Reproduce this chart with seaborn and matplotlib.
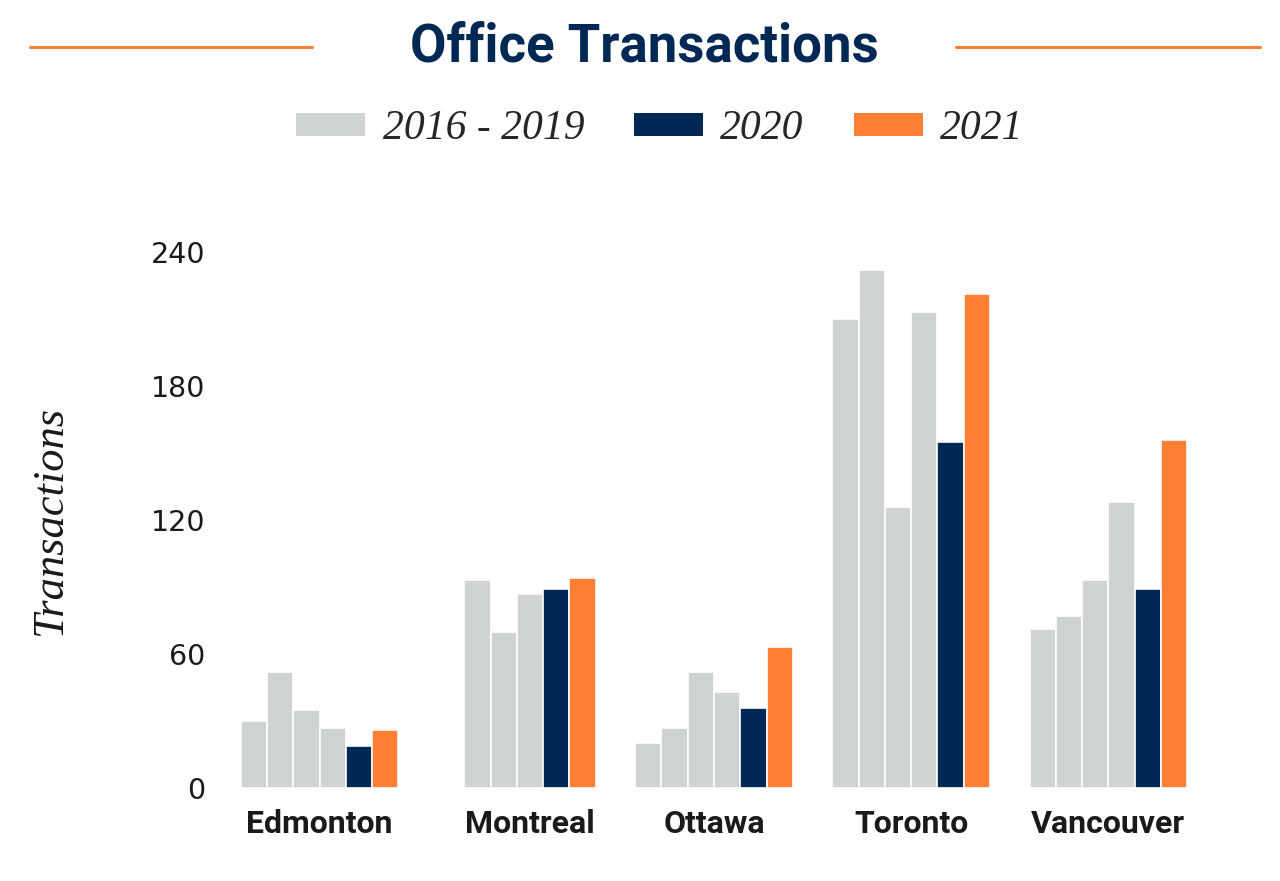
import pandas as pd
import matplotlib.pyplot as plt
import matplotlib.lines as mlines
import seaborn as sns
import numpy as np

# ------------------------------
# Data
# ------------------------------
cities = ['Edmonton', 'Montreal', 'Ottawa', 'Toronto', 'Vancouver']
y2016 = [30, np.nan, 20, 210, 71]
y2017 = [52, 93, 27, 232, 77]
y2018 = [35, 70, 52, 126, 93]
y2019 = [27, 87, 43, 213, 128]
y2020 = [19, 89, 36, 155, 89]
y2021 = [26, 94, 63, 221, 156]

years = ['2016', '2017', '2018', '2019', '2020', '2021']
legend_labels = ['2016 - 2019', '2020', '2021']

GRAY = '#D0D3D4'
NAVY = '#002855'
ORANGE = '#FF8035'

df = pd.DataFrame({'city': cities, '2016': y2016, '2017': y2017, '2018': y2018,
                   '2019': y2019, '2020': y2020, '2021': y2021})
df_long = df.melt(id_vars='city', var_name='year', value_name='transactions').dropna()

palette = {'2016': GRAY, '2017': GRAY, '2018': GRAY, '2019': GRAY,
           '2020': NAVY, '2021': ORANGE}

# ------------------------------
# Plot
# ------------------------------
sns.set_style('white')
plt.rcParams['font.family'] = ['Roboto', 'DejaVu Sans']

fig = plt.figure(figsize=(12.8, 8.81), dpi=100)
ax = fig.add_axes([221 / 1280, 1 - 788 / 881, 986 / 1280, (788 - 252) / 881])

sns.barplot(data=df_long, x='city', y='transactions', hue='year', order=cities,
            hue_order=years, palette=palette, saturation=1, errorbar=None, width=0.8,
            edgecolor='white', linewidth=1.2, ax=ax)

ax.set_ylim(0, 240)
ax.set_xlim(-0.5, 4.5)
ax.set_yticks([0, 60, 120, 180, 240])
ax.set_yticklabels(['0', '60', '120', '180', '240'], fontsize=20.5,
                   family=['DejaVu Sans'], color='#1a1a1a')
# Montreal has no 2016 bar, so centre its label on the bars it has
ax.set_xticks([0, 1 + 0.8 / 12, 2, 3, 4])
ax.set_xticklabels(cities, fontsize=23, fontweight='bold', color='#1a1a1a')
ax.tick_params(axis='both', length=0)
ax.tick_params(axis='y', pad=11)
ax.tick_params(axis='x', pad=15)
ax.set_xlabel('')
ax.set_ylabel('')
sns.despine(ax=ax, left=True, bottom=True)
ax.legend_.remove()

fig.text(50 / 1280, 1 - 521 / 881, 'Transactions', rotation=90, ha='center', va='center',
         fontsize=32, style='italic', family=['Liberation Serif', 'DejaVu Serif'],
         color='#1a1a1a')

# Title with orange rules on each side
fig.text(644 / 1280, 1 - 47 / 881, 'Office Transactions', ha='center', va='center',
         fontsize=38, fontweight='bold', color=NAVY)
fig.add_artist(mlines.Line2D([30 / 1280, 312 / 1280], [1 - 47 / 881] * 2,
                             color=ORANGE, linewidth=2.2))
fig.add_artist(mlines.Line2D([956 / 1280, 1260 / 1280], [1 - 47 / 881] * 2,
                             color=ORANGE, linewidth=2.2))

# Legend: one grey swatch for 2016-2019, then 2020 and 2021
handles = [ax.containers[0].patches[0], ax.containers[4].patches[0],
           ax.containers[5].patches[0]]
leg = fig.legend(handles, legend_labels, loc='center', bbox_to_anchor=(660 / 1280, 1 - 129 / 881),
                 ncol=3, frameon=False, handlelength=1.65, handleheight=0.45,
                 handletextpad=0.42, columnspacing=1.2,
                 prop={'family': ['Liberation Serif', 'DejaVu Serif'], 'style': 'italic',
                       'size': 30})
for h in leg.legend_handles:
    h.set_edgecolor('none')

plt.savefig('out.png', dpi=100, facecolor='white')
plt.close()
